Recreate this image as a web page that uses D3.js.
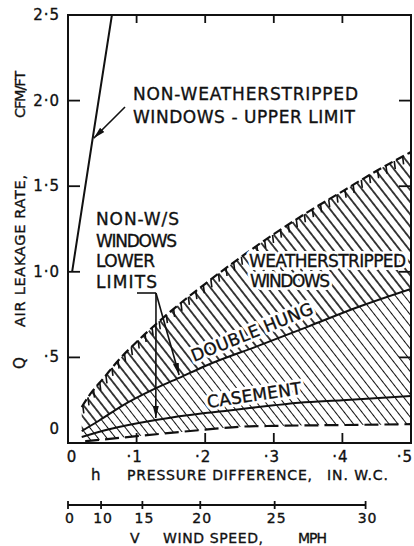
<!DOCTYPE html>
<html>
<head>
<meta charset="utf-8">
<script src="https://cdn.jsdelivr.net/npm/d3@7"></script>
<style>
body { margin: 0; background: #fff; }
svg { display: block; font-family: "DejaVu Sans", sans-serif; }
</style>
</head>
<body>
<svg id="chart" width="414" height="546"></svg>
<script>
// axis ticks
var hTicks = [0, 0.1, 0.2, 0.3, 0.4, 0.5];
var hLabels = ["0", "·1", "·2", "·3", "·4", "·5"];
var qTicks = [0, 0.5, 1.0, 1.5, 2.0, 2.5];
var qLabels = ["0", "·5", "1·0", "1·5", "2·0", "2·5"];
var windTicks = [0, 10, 15, 20, 25, 30];

// curves: [h (in. w.c.), Q (cfm/ft)]
var nonWsUpper = [[0.006, 1.0], [0.036, 1.78], [0.064, 2.5]];
var wsUpper = [[0.02, 0.21], [0.035, 0.30], [0.05, 0.37], [0.075, 0.49], [0.1, 0.59], [0.15, 0.77],
    [0.2, 0.93], [0.25, 1.08], [0.3, 1.22], [0.35, 1.35], [0.4, 1.47], [0.45, 1.59], [0.5, 1.70]];
var doubleHung = [[0.02, 0.07], [0.045, 0.13], [0.08, 0.22], [0.123, 0.31], [0.162, 0.38], [0.2, 0.45],
    [0.279, 0.57], [0.35, 0.68], [0.42, 0.79], [0.5, 0.90]];
var casement = [[0.02, 0.035], [0.06, 0.08], [0.128, 0.134], [0.2, 0.175], [0.235, 0.19], [0.3, 0.22],
    [0.337, 0.235], [0.4, 0.25], [0.5, 0.275]];
var wsLower = [[0.025, 0.01], [0.1, 0.04], [0.2, 0.078], [0.25, 0.095], [0.3, 0.10], [0.4, 0.105], [0.5, 0.11]];

var ink = "#111";
var svg = d3.select("#chart");
var x = d3.scaleLinear().domain([0, 0.5]).range([68, 411]);
var y = d3.scaleLinear().domain([0, 2.5]).range([443, 15]);
// wind speed (mph) -> velocity pressure (in. w.c.)
function windH(v) { return 0.000482 * v * v; }

var defs = svg.append("defs");
function hatch(id, size, width) {
    var p = defs.append("pattern")
        .attr("id", id)
        .attr("patternUnits", "userSpaceOnUse")
        .attr("width", size)
        .attr("height", size)
        .attr("patternTransform", "rotate(-38)");
    p.append("line")
        .attr("x1", size / 2).attr("y1", -1)
        .attr("x2", size / 2).attr("y2", size + 1)
        .attr("stroke", ink)
        .attr("stroke-width", width);
}
hatch("hatchBold", 7.5, 1.6);
hatch("hatchThin", 7, 1.0);

defs.append("clipPath").attr("id", "plotClip")
    .append("rect")
    .attr("x", x(0)).attr("y", y(2.5))
    .attr("width", x(0.5) - x(0)).attr("height", y(0) - y(2.5));

defs.append("marker")
    .attr("id", "arrow")
    .attr("viewBox", "0 -4 12 8")
    .attr("refX", 12).attr("refY", 0)
    .attr("markerUnits", "userSpaceOnUse")
    .attr("markerWidth", 12).attr("markerHeight", 8)
    .attr("orient", "auto")
    .append("path")
    .attr("d", "M0,-3L12,0L0,3Z")
    .attr("fill", ink);

var line = d3.line()
    .x(function (d) { return x(d[0]); })
    .y(function (d) { return y(d[1]); })
    .curve(d3.curveMonotoneX);

function band(top, bottom) {
    return line(top) + "L" + line(bottom.slice().reverse()).slice(1) + "Z";
}

var plot = svg.append("g").attr("clip-path", "url(#plotClip)");

plot.append("path").attr("d", band(wsUpper, doubleHung)).attr("fill", "url(#hatchBold)");
plot.append("path").attr("d", band(doubleHung, casement)).attr("fill", "url(#hatchThin)");
plot.append("path").attr("d", band(casement, wsLower)).attr("fill", "url(#hatchThin)");

var upperPath = plot.append("path").attr("d", line(wsUpper))
    .attr("fill", "none").attr("stroke", ink).attr("stroke-width", 2.2)
    .attr("stroke-dasharray", "9,4");

// short comb legs hanging under the upper weatherstripped limit
var upNode = upperPath.node();
var upLen = upNode.getTotalLength();
var combs = d3.range(2, upLen, 9.5).map(function (l) { return upNode.getPointAtLength(l); });
plot.append("g").selectAll("line")
    .data(combs)
    .enter().append("line")
    .attr("x1", function (p) { return p.x; })
    .attr("y1", function (p) { return p.y; })
    .attr("x2", function (p) { return p.x + 1; })
    .attr("y2", function (p) { return p.y + 8; })
    .attr("stroke", ink).attr("stroke-width", 1.6);

plot.append("path").attr("d", line(doubleHung))
    .attr("fill", "none").attr("stroke", ink).attr("stroke-width", 2);
plot.append("path").attr("d", line(casement))
    .attr("fill", "none").attr("stroke", ink).attr("stroke-width", 2);
plot.append("path").attr("d", line(wsLower))
    .attr("fill", "none").attr("stroke", ink).attr("stroke-width", 2.2)
    .attr("stroke-dasharray", "14,6");
plot.append("path").attr("d", d3.line()
        .x(function (d) { return x(d[0]); })
        .y(function (d) { return y(d[1]); })(nonWsUpper))
    .attr("fill", "none").attr("stroke", ink).attr("stroke-width", 2);

// frame and ticks
svg.append("rect")
    .attr("x", x(0)).attr("y", y(2.5))
    .attr("width", x(0.5) - x(0)).attr("height", y(0) - y(2.5))
    .attr("fill", "none").attr("stroke", ink).attr("stroke-width", 2);

var tk = svg.append("g").attr("stroke", ink).attr("stroke-width", 1.8);
qTicks.slice(1, 5).forEach(function (q) {
    tk.append("line").attr("x1", x(0)).attr("x2", x(0) + 12).attr("y1", y(q)).attr("y2", y(q));
    tk.append("line").attr("x1", x(0.5)).attr("x2", x(0.5) - 12).attr("y1", y(q)).attr("y2", y(q));
});
hTicks.slice(1, 5).forEach(function (h) {
    tk.append("line").attr("x1", x(h)).attr("x2", x(h)).attr("y1", y(0)).attr("y2", y(0) - 10);
    tk.append("line").attr("x1", x(h)).attr("x2", x(h)).attr("y1", y(2.5)).attr("y2", y(2.5) + 8);
});

// tick labels
svg.append("g").selectAll("text")
    .data(qTicks)
    .enter().append("text")
    .attr("x", 60)
    .attr("y", function (d) { return y(d) + (d === 0 ? -9 : 5); })
    .attr("text-anchor", "end")
    .attr("font-size", 15)
    .attr("letter-spacing", 1)
    .attr("fill", ink).attr("stroke", ink).attr("stroke-width", 0.35)
    .text(function (d, i) { return qLabels[i]; });

svg.append("g").selectAll("text")
    .data(hTicks)
    .enter().append("text")
    .attr("x", function (d) { return d === 0 ? x(d) + 4 : Math.min(x(d) - 2, 405); })
    .attr("y", 462)
    .attr("text-anchor", "middle")
    .attr("font-size", 15)
    .attr("letter-spacing", 1)
    .attr("fill", ink).attr("stroke", ink).attr("stroke-width", 0.35)
    .text(function (d, i) { return hLabels[i]; });

// text helper
function label(txt, px, py, size, len, rot, squeeze) {
    var t = svg.append("text")
        .attr("transform", "translate(" + px + "," + py + ")" + (rot ? " rotate(" + rot + ")" : ""))
        .attr("font-size", size)
        .attr("fill", ink)
        .attr("stroke", ink)
        .attr("stroke-width", 0.35)
        .text(txt);
    if (len) t.attr("textLength", len).attr("lengthAdjust", squeeze ? "spacingAndGlyphs" : "spacing");
    return t;
}
// labels sitting on hatching get a white knock-out behind them
function haloLabel(txt, px, py, size, len, rot) {
    label(txt, px, py, size, len, rot)
        .attr("fill", "#fff").attr("stroke", "#fff").attr("stroke-width", 6)
        .attr("stroke-linejoin", "round");
    return label(txt, px, py, size, len, rot);
}

label("h", 91, 480, 15);
label("PRESSURE DIFFERENCE,", 127, 480, 14, 185);
label("IN. W.C.", 327, 480, 14, 61);

label("Q", 25, 369, 15, 0, -90);
label("AIR LEAKAGE RATE,", 25, 327, 14.5, 152, -90);
label("CFM/FT", 25, 118, 14.5, 47, -90);

// wind speed scale
var wind = svg.append("g").attr("stroke", ink).attr("stroke-width", 1.8);
wind.append("line")
    .attr("x1", x(windH(0))).attr("x2", x(windH(30)))
    .attr("y1", 505).attr("y2", 505);
windTicks.forEach(function (v) {
    wind.append("line").attr("x1", x(windH(v))).attr("x2", x(windH(v)))
        .attr("y1", 501).attr("y2", 509);
});
svg.append("g").selectAll("text")
    .data(windTicks)
    .enter().append("text")
    .attr("x", function (d) { return x(windH(d)) + 2; })
    .attr("y", 523)
    .attr("text-anchor", "middle")
    .attr("font-size", 14)
    .attr("letter-spacing", 1)
    .attr("fill", ink).attr("stroke", ink).attr("stroke-width", 0.35)
    .text(function (d) { return d; });
label("V", 130, 543, 14);
label("WIND SPEED,", 163, 543, 14, 100);
label("MPH", 298, 543, 14, 29);

// annotations
label("NON-WEATHERSTRIPPED", 133, 100, 17, 225);
label("WINDOWS - UPPER LIMIT", 133, 123, 17, 222);
svg.append("line")
    .attr("x1", 125).attr("y1", 107)
    .attr("x2", x(0.036) + 1).attr("y2", y(1.78))
    .attr("stroke", ink).attr("stroke-width", 1.6)
    .attr("marker-end", "url(#arrow)");

label("NON-W/S", 96, 225, 17, 83);
label("WINDOWS", 96, 247, 17, 81);
label("LOWER", 96, 267, 17, 59);
label("LIMITS", 96, 288, 17, 61);
var br = svg.append("g").attr("stroke", ink).attr("stroke-width", 1.6).attr("fill", "none");
br.append("line").attr("x1", 137).attr("y1", 293).attr("x2", 156).attr("y2", 293);
br.append("line").attr("x1", 156).attr("y1", 293)
    .attr("x2", x(0.128)).attr("y2", y(0.134) - 2)
    .attr("marker-end", "url(#arrow)");
br.append("line").attr("x1", 156).attr("y1", 293)
    .attr("x2", x(0.162)).attr("y2", y(0.38) - 3)
    .attr("marker-end", "url(#arrow)");

haloLabel("WEATHERSTRIPPED", 249, 267, 17, 157);
haloLabel("WINDOWS", 250, 287, 17, 80);
haloLabel("DOUBLE HUNG", 194, 362, 17, 130, -22);
haloLabel("CASEMENT", 208, 408, 17, 95, -8.5);
</script>
</body>
</html>
